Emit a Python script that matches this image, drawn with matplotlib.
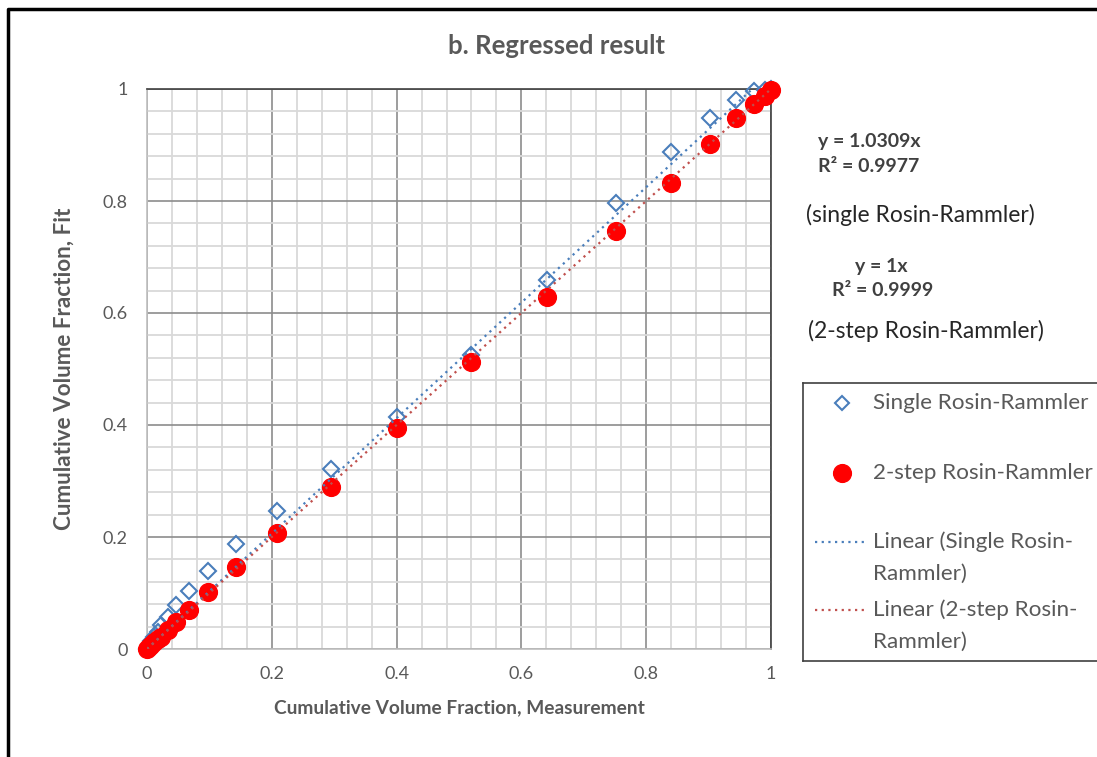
import numpy as np
import matplotlib
matplotlib.use('Agg')
import matplotlib.pyplot as plt
from matplotlib.lines import Line2D
from matplotlib.ticker import MultipleLocator

plt.rcParams['font.family'] = ['Lato', 'DejaVu Sans']

# cumulative volume fraction, measured vs fitted
measured = [0.0, 0.003, 0.007, 0.012, 0.017, 0.023, 0.034, 0.047, 0.068, 0.097,
            0.143, 0.208, 0.295, 0.401, 0.519, 0.641, 0.751, 0.839, 0.902,
            0.944, 0.973, 0.99, 1.0]
fit_single = [0.0, 0.006, 0.014, 0.022, 0.030, 0.042, 0.058, 0.079, 0.104, 0.140,
              0.187, 0.246, 0.321, 0.415, 0.525, 0.659, 0.796, 0.887, 0.948,
              0.981, 0.997, 0.999, 1.0]
fit_2step = [0.0, 0.003, 0.007, 0.012, 0.017, 0.022, 0.034, 0.049, 0.070, 0.102,
             0.147, 0.208, 0.290, 0.394, 0.512, 0.629, 0.746, 0.833, 0.901,
             0.949, 0.974, 0.988, 0.998]

# trendlines forced through zero
slope_single = 1.0309
r2_single = 0.9977
slope_2step = 1.0
r2_2step = 0.9999

label_single = 'Single Rosin-Rammler'
label_2step = '2-step Rosin-Rammler'

BLUE = '#4a7ebb'
RED_TREND = '#c0504d'
GRAY = '#595959'

W, H = 1097, 757
fig = plt.figure(figsize=(W / 100, H / 100), dpi=100)


def fx(px):
    return px / W


def fy(py):
    return 1 - py / H


ax = fig.add_axes([fx(147), fy(649), fx(771) - fx(147), fy(89) - fy(649)])

ax.plot(measured, fit_single, linestyle='none', marker='D', markersize=7.8,
        markerfacecolor='none', markeredgecolor=BLUE, markeredgewidth=1.5,
        zorder=3, clip_on=False)
ax.plot(measured, fit_2step, linestyle='none', marker='o', markersize=12.8,
        markerfacecolor='#ff0000', markeredgecolor='#ff0000', zorder=4,
        clip_on=False)

xs = np.array([0.0, 1.0])
ax.plot(xs, slope_single * xs, color=BLUE, lw=1.6, linestyle=(0, (1, 2)), zorder=5)
ax.plot(xs, slope_2step * xs, color=RED_TREND, lw=1.6, linestyle=(0, (1, 2)), zorder=5)

ax.set_xlim(0, 1)
ax.set_ylim(0, 1)
ax.xaxis.set_major_locator(MultipleLocator(0.2))
ax.yaxis.set_major_locator(MultipleLocator(0.2))
ax.xaxis.set_minor_locator(MultipleLocator(0.04))
ax.yaxis.set_minor_locator(MultipleLocator(0.04))
ax.grid(which='minor', color='#d9d9d9', lw=1.3, zorder=0)
ax.grid(which='major', color='#8c8c8c', lw=1.2, zorder=1)
ax.set_axisbelow(True)
ax.tick_params(which='both', length=0)
ax.tick_params(axis='x', pad=12, labelsize=13, labelcolor=GRAY)
ax.tick_params(axis='y', pad=14, labelsize=13, labelcolor=GRAY)
fmt = lambda v, pos: f'{round(v, 2):g}'
ax.xaxis.set_major_formatter(fmt)
ax.yaxis.set_major_formatter(fmt)

for side in ['left', 'bottom']:
    ax.spines[side].set_color('#bfbfbf')
    ax.spines[side].set_linewidth(1.2)
for side in ['top', 'right']:
    ax.spines[side].set_color('#404040')
    ax.spines[side].set_linewidth(1.2)

ax.set_xlabel('Cumulative Volume Fraction, Measurement', fontsize=13.8,
              fontweight='bold', color=GRAY, labelpad=13)
ax.set_ylabel('Cumulative Volume Fraction, Fit', fontsize=16.2,
              fontweight='bold', color=GRAY, labelpad=20)

fig.text(fx(557), fy(46), 'b. Regressed result', fontsize=18.5, fontweight='bold',
         color=GRAY, ha='center', va='center')

# regression equations
EQ = '#404040'
EQF = 14
fig.text(fx(818), fy(142), f'y = {slope_single}x', fontsize=EQF, fontweight='bold',
         color=EQ, va='center')
fig.text(fx(818), fy(167), f'R² = {r2_single}', fontsize=EQF, fontweight='bold',
         color=EQ, va='center')
fig.text(fx(806), fy(215), '(single Rosin-Rammler)', fontsize=16.5,
         color='#262626', va='center')
fig.text(fx(855), fy(266), f'y = {slope_2step:g}x', fontsize=EQF, fontweight='bold',
         color=EQ, va='center')
fig.text(fx(832), fy(290), f'R² = {r2_2step}', fontsize=EQF, fontweight='bold',
         color=EQ, va='center')
fig.text(fx(808), fy(331), '(2-step Rosin-Rammler)', fontsize=16.5,
         color='#262626', va='center')

# legend box, laid out in pixel units
lax = fig.add_axes([fx(803), fy(661), fx(1120) - fx(803), fy(383) - fy(661)])
lax.set_xlim(803, 1120)
lax.set_ylim(661, 383)
lax.set_xticks([])
lax.set_yticks([])
for s in lax.spines.values():
    s.set_color('#404040')
    s.set_linewidth(1.2)
lax.plot([842], [403], marker='D', markersize=7.2, markerfacecolor='none',
         markeredgecolor=BLUE, markeredgewidth=1.5, linestyle='none')
lax.plot([842], [473], marker='o', markersize=12.8, color='#ff0000',
         linestyle='none')
lax.plot([815, 866], [542, 542], color=BLUE, lw=1.6, linestyle=(0, (1, 2)))
lax.plot([815, 866], [610, 610], color=RED_TREND, lw=1.6, linestyle=(0, (1, 2)))
LEG = dict(fontsize=16.2, color=GRAY, va='center')
lax.text(873, 403, label_single, **LEG)
lax.text(873, 473, label_2step, **LEG)
lax.text(873, 542, 'Linear (Single Rosin-', **LEG)
lax.text(873, 574, 'Rammler)', **LEG)
lax.text(873, 610, 'Linear (2-step Rosin-', **LEG)
lax.text(873, 642, 'Rammler)', **LEG)

# outer frame, open on the right and bottom
fig.add_artist(Line2D([fx(8), fx(8), fx(1110)], [fy(770), fy(9), fy(9)],
                      color='black', lw=2.5, transform=fig.transFigure))

fig.savefig('out.png', dpi=100)
